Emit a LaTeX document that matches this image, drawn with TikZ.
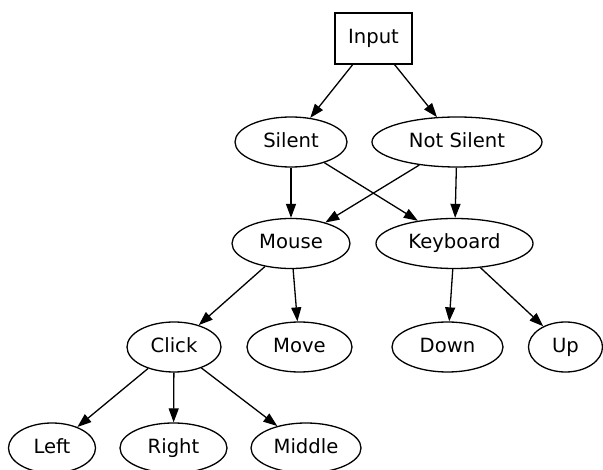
\documentclass[tikz,border=0pt]{standalone}
\usepackage{fontspec}
\setmainfont{DejaVu Sans}
\usetikzlibrary{shapes.geometric,arrows.meta}
\begin{document}
\begin{tikzpicture}[x=1pt,y=-1pt,
  every node/.style={font=\fontsize{19.6}{23}\selectfont, line width=1.3pt, text height=14.5pt, text depth=4pt},
  ell/.style={ellipse, draw=black, minimum height=50pt, inner sep=0pt, minimum width=#1},
  boxnode/.style={rectangle, draw=black, minimum width=77pt, minimum height=51pt, inner sep=0pt},
  edge/.style={-{Triangle[length=14pt,width=10pt]}, line width=1.3pt}]
\useasboundingbox (0,0) rectangle (603,470);
\node[boxnode] (input) at (373.5,38.5) {Input};
\node[ell=112pt] (silent) at (291,142) {Silent};
\node[ell=170pt] (notsilent) at (457,142) {Not Silent};
\node[ell=118pt] (mouse) at (291,243.5) {Mouse};
\node[ell=157pt] (keyboard) at (454.5,243.5) {Keyboard};
\node[ell=94pt] (click) at (174,347) {Click};
\node[ell=105pt] (move) at (299.5,347) {Move};
\node[ell=111pt] (down) at (447.5,347) {Down};
\node[ell=74pt] (up) at (565.5,347) {Up};
\node[ell=87pt] (left) at (52,448) {Left};
\node[ell=107pt] (right) at (173.5,448) {Right};
\node[ell=110pt] (middle) at (306,448) {Middle};
\draw[edge] (input) -- (silent);
\draw[edge] (input) -- (notsilent);
\draw[edge] (silent) -- (mouse);
\draw[edge] (silent) -- (keyboard);
\draw[edge] (notsilent) -- (mouse);
\draw[edge] (notsilent) -- (keyboard);
\draw[edge] (mouse) -- (click);
\draw[edge] (mouse) -- (move);
\draw[edge] (keyboard) -- (down);
\draw[edge] (keyboard) -- (up);
\draw[edge] (click) -- (left);
\draw[edge] (click) -- (right);
\draw[edge] (click) -- (middle);
\end{tikzpicture}
\end{document}
